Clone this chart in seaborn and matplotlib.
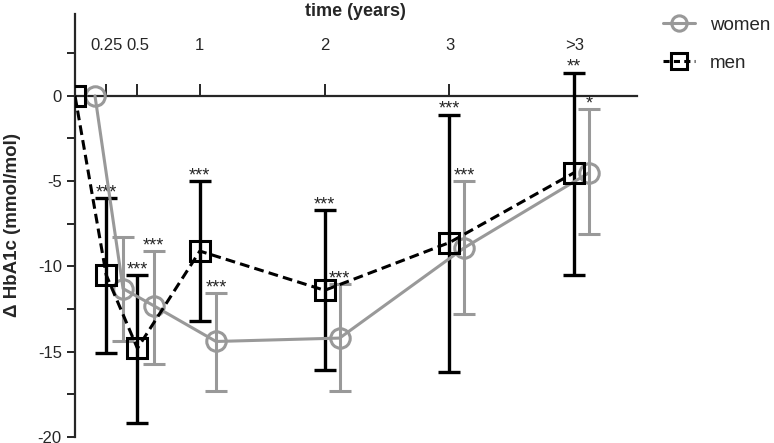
import pandas as pd
import numpy as np
import matplotlib
matplotlib.use("Agg")
import matplotlib.pyplot as plt
import seaborn as sns
from matplotlib.ticker import MultipleLocator
from matplotlib.lines import Line2D

# Data: change in HbA1c over time, women vs men (mean with error bars)
time_ticks = [0.25, 0.5, 1, 2, 3, 4]
time_labels = ['0.25', '0.5', '1', '2', '3', '>3']

men_time = [0, 0.25, 0.5, 1, 2, 3, 4]
men_mean = [0, -10.5, -14.8, -9.1, -11.4, -8.6, -4.5]
men_upper = [0, -6.0, -10.5, -5.0, -6.7, -1.1, 1.35]
men_lower = [0, -15.1, -19.2, -13.2, -16.1, -16.2, -10.5]
men_stars = ['', '***', '***', '***', '***', '***', '**']

women_time = [0.16, 0.385, 0.63, 1.13, 2.12, 3.12, 4.12]
women_mean = [0, -11.3, -12.3, -14.4, -14.2, -8.9, -4.5]
women_upper = [0, -8.25, -9.1, -11.55, -11.05, -5.0, -0.8]
women_lower = [0, -14.35, -15.7, -17.3, -17.3, -12.8, -8.1]
women_stars = ['', '', '***', '***', '***', '***', '*']

sns.set_style('ticks')
plt.rcParams['font.family'] = ['Liberation Sans', 'DejaVu Sans']
plt.rcParams['axes.unicode_minus'] = False

gray = '#999999'

df = pd.DataFrame({
    'time': women_time + men_time,
    'change': women_mean + men_mean,
    'sex': ['women'] * len(women_time) + ['men'] * len(men_time),
})

fig = plt.figure(figsize=(7.74, 4.43), dpi=100)
ax = fig.add_axes([0.0969, 0.0135, 0.7257, 0.955])

# error bars first, lines + markers on top
eb_w = ax.errorbar(women_time[1:], women_mean[1:],
                   yerr=[np.subtract(women_mean[1:], women_lower[1:]),
                         np.subtract(women_upper[1:], women_mean[1:])],
                   fmt='none', ecolor=gray, elinewidth=2.2, capsize=8, capthick=2.2, zorder=2)
eb_m = ax.errorbar(men_time[1:], men_mean[1:],
                   yerr=[np.subtract(men_mean[1:], men_lower[1:]),
                         np.subtract(men_upper[1:], men_mean[1:])],
                   fmt='none', ecolor='black', elinewidth=2.4, capsize=8, capthick=2.4, zorder=3)
for cap in eb_w[1]:
    cap.set_color(gray)
for cap in eb_m[1]:
    cap.set_color('black')

sns.lineplot(data=df, x='time', y='change', hue='sex', style='sex',
             palette={'women': gray, 'men': 'black'},
             dashes={'women': '', 'men': (3.2, 1.7)},
             markers={'women': 'o', 'men': 's'},
             markersize=14, markeredgewidth=2.2,
             linewidth=2.2, sort=False, ax=ax, legend=False, zorder=4)
for ln in ax.lines:
    ln.set_markerfacecolor('none')
    ln.set_markeredgecolor(ln.get_color())
ax.set_xlabel('')
ax.set_ylabel('')

# significance stars
for t, up, s in zip(men_time, men_upper, men_stars):
    if s:
        ax.text(t, up + 0.05, s, ha='center', va='baseline', fontsize=13)
for t, up, s in zip(women_time, women_upper, women_stars):
    if s:
        ax.text(t, up + 0.05, s, ha='center', va='baseline', fontsize=13)

ax.set_xlim(0, 4.5)
ax.set_ylim(-20, 4.8)

# x axis drawn at y = 0 with ticks pointing up, labels on top
ax.spines['bottom'].set_visible(False)
ax.spines['right'].set_visible(False)
ax.spines['top'].set_position(('data', 0))
ax.spines['top'].set_linewidth(1.6)
ax.spines['left'].set_linewidth(1.6)
ax.xaxis.set_ticks_position('top')
ax.set_xticks(time_ticks)
ax.set_xticklabels(time_labels)
ax.tick_params(axis='x', direction='out', length=8.6, width=1.4, pad=22, labelsize=12)

ax.yaxis.set_minor_locator(MultipleLocator(2.5))
ax.set_yticks([0, -5, -10, -15, -20])
ax.tick_params(axis='y', which='both', direction='out', length=6, width=1.4, labelsize=12)

fig.text(355 / 774, 1 - 12 / 443, 'time (years)', ha='center', va='center',
         fontsize=13, fontweight='bold')
fig.text(13 / 774, 1 - 225 / 443, '\u0394 HbA1c (mmol/mol)', ha='center', va='center',
         rotation=90, fontsize=13.5, fontweight='bold')

# legend
handles = [
    Line2D([], [], color=gray, lw=2.2, marker='o', markersize=11, markerfacecolor='none', markeredgewidth=2.2),
    Line2D([], [], color='black', lw=2.2, ls=(0, (2, 1.4)), marker='s', markersize=11, markerfacecolor='none', markeredgewidth=2.2),
]
fig.legend(handles, ['women', 'men'], loc='upper left', bbox_to_anchor=(0.835, 1.0),
           frameon=False, fontsize=13.5, handlelength=1.7, labelspacing=1.1, handletextpad=0.8)

fig.savefig('out.png', dpi=100)
